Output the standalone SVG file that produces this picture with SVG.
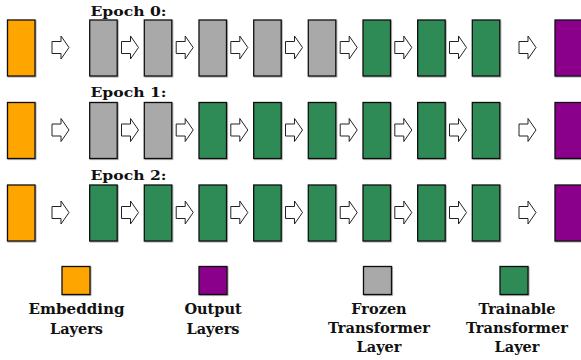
<svg xmlns="http://www.w3.org/2000/svg" xmlns:xlink="http://www.w3.org/1999/xlink" width="581" height="360" viewBox="0 0 581 360">
  <style>
    .box { stroke: #111; stroke-width: 1.3; }
    .emb { fill: #FFA500; }
    .out { fill: #8B008B; }
    .frz { fill: #A9A9A9; }
    .trn { fill: #2E8B57; }
    .arrow { fill: #fff; stroke: #222; stroke-width: 1; stroke-linejoin: miter; }
    .lbl { font-family: "DejaVu Serif", "Liberation Serif", serif; font-weight: bold; fill: #111; }
    .epoch { font-size: 13px; }
    .leg { font-size: 14.5px; text-anchor: middle; }
  </style>
  <defs>
    <filter id="shadow" x="-20%" y="-20%" width="140%" height="140%">
      <feDropShadow dx="0.8" dy="0.8" stdDeviation="0.6" flood-color="#000" flood-opacity="0.35"/>
    </filter>
    <!-- block arrow, local origin at left end of shaft, centred vertically -->
    <path id="blk" class="arrow" d="M0,-6 H9 V-11.5 L17,0 L9,11.5 V6 H0 Z"/>
  </defs>

  <!-- Epoch labels -->
  <g id="labels">
    <text class="lbl epoch" x="90.5" y="15.5" textLength="76" lengthAdjust="spacingAndGlyphs">Epoch 0:</text>
    <text class="lbl epoch" x="90.5" y="97" textLength="76" lengthAdjust="spacingAndGlyphs">Epoch 1:</text>
    <text class="lbl epoch" x="90.5" y="179.5" textLength="76" lengthAdjust="spacingAndGlyphs">Epoch 2:</text>
  </g>

  <!-- Epoch 0 row -->
  <g id="row0" filter="url(#shadow)">
    <rect id="r0-emb" class="box emb" x="7.5" y="20" width="27.5" height="56"/>
    <rect id="r0-l1" class="box frz" x="89.7" y="20" width="27.5" height="56"/>
    <rect id="r0-l2" class="box frz" x="144.3" y="20" width="27.5" height="56"/>
    <rect id="r0-l3" class="box frz" x="199" y="20" width="27.5" height="56"/>
    <rect id="r0-l4" class="box frz" x="253.7" y="20" width="27.5" height="56"/>
    <rect id="r0-l5" class="box frz" x="308.3" y="20" width="27.5" height="56"/>
    <rect id="r0-l6" class="box trn" x="363" y="20" width="27.5" height="56"/>
    <rect id="r0-l7" class="box trn" x="417.7" y="20" width="27.5" height="56"/>
    <rect id="r0-l8" class="box trn" x="472.3" y="20" width="27.5" height="56"/>
    <rect id="r0-out" class="box out" x="555" y="20" width="27.5" height="56"/>
  </g>

  <!-- Epoch 1 row -->
  <g id="row1" filter="url(#shadow)">
    <rect id="r1-emb" class="box emb" x="7.5" y="102.5" width="27.5" height="56"/>
    <rect id="r1-l1" class="box frz" x="89.7" y="102.5" width="27.5" height="56"/>
    <rect id="r1-l2" class="box frz" x="144.3" y="102.5" width="27.5" height="56"/>
    <rect id="r1-l3" class="box trn" x="199" y="102.5" width="27.5" height="56"/>
    <rect id="r1-l4" class="box trn" x="253.7" y="102.5" width="27.5" height="56"/>
    <rect id="r1-l5" class="box trn" x="308.3" y="102.5" width="27.5" height="56"/>
    <rect id="r1-l6" class="box trn" x="363" y="102.5" width="27.5" height="56"/>
    <rect id="r1-l7" class="box trn" x="417.7" y="102.5" width="27.5" height="56"/>
    <rect id="r1-l8" class="box trn" x="472.3" y="102.5" width="27.5" height="56"/>
    <rect id="r1-out" class="box out" x="555" y="102.5" width="27.5" height="56"/>
  </g>

  <!-- Epoch 2 row -->
  <g id="row2" filter="url(#shadow)">
    <rect id="r2-emb" class="box emb" x="7.5" y="185" width="27.5" height="56"/>
    <rect id="r2-l1" class="box trn" x="89.7" y="185" width="27.5" height="56"/>
    <rect id="r2-l2" class="box trn" x="144.3" y="185" width="27.5" height="56"/>
    <rect id="r2-l3" class="box trn" x="199" y="185" width="27.5" height="56"/>
    <rect id="r2-l4" class="box trn" x="253.7" y="185" width="27.5" height="56"/>
    <rect id="r2-l5" class="box trn" x="308.3" y="185" width="27.5" height="56"/>
    <rect id="r2-l6" class="box trn" x="363" y="185" width="27.5" height="56"/>
    <rect id="r2-l7" class="box trn" x="417.7" y="185" width="27.5" height="56"/>
    <rect id="r2-l8" class="box trn" x="472.3" y="185" width="27.5" height="56"/>
    <rect id="r2-out" class="box out" x="555" y="185" width="27.5" height="56"/>
  </g>

  <!-- Connectors: block arrows between consecutive layers -->
  <g id="connectors">
    <g transform="translate(0,47.5)">
      <use xlink:href="#blk" x="52" y="0"/>
      <use xlink:href="#blk" x="121.5" y="0"/>
      <use xlink:href="#blk" x="176.2" y="0"/>
      <use xlink:href="#blk" x="230.8" y="0"/>
      <use xlink:href="#blk" x="285.5" y="0"/>
      <use xlink:href="#blk" x="340.2" y="0"/>
      <use xlink:href="#blk" x="394.8" y="0"/>
      <use xlink:href="#blk" x="449.5" y="0"/>
      <use xlink:href="#blk" x="519" y="0"/>
    </g>
    <g transform="translate(0,130)">
      <use xlink:href="#blk" x="52" y="0"/>
      <use xlink:href="#blk" x="121.5" y="0"/>
      <use xlink:href="#blk" x="176.2" y="0"/>
      <use xlink:href="#blk" x="230.8" y="0"/>
      <use xlink:href="#blk" x="285.5" y="0"/>
      <use xlink:href="#blk" x="340.2" y="0"/>
      <use xlink:href="#blk" x="394.8" y="0"/>
      <use xlink:href="#blk" x="449.5" y="0"/>
      <use xlink:href="#blk" x="519" y="0"/>
    </g>
    <g transform="translate(0,212.5)">
      <use xlink:href="#blk" x="52" y="0"/>
      <use xlink:href="#blk" x="121.5" y="0"/>
      <use xlink:href="#blk" x="176.2" y="0"/>
      <use xlink:href="#blk" x="230.8" y="0"/>
      <use xlink:href="#blk" x="285.5" y="0"/>
      <use xlink:href="#blk" x="340.2" y="0"/>
      <use xlink:href="#blk" x="394.8" y="0"/>
      <use xlink:href="#blk" x="449.5" y="0"/>
      <use xlink:href="#blk" x="519" y="0"/>
    </g>
  </g>

  <!-- Legend -->
  <g id="legend-embedding">
    <rect class="box emb" x="62" y="266.5" width="28" height="28" filter="url(#shadow)"/>
    <text class="lbl leg" x="76.5" y="314" textLength="96" lengthAdjust="spacingAndGlyphs">Embedding</text>
    <text class="lbl leg" x="76.5" y="333.5">Layers</text>
  </g>
  <g id="legend-output">
    <rect class="box out" x="199" y="266.5" width="28" height="28" filter="url(#shadow)"/>
    <text class="lbl leg" x="213" y="314">Output</text>
    <text class="lbl leg" x="213" y="333.5">Layers</text>
  </g>
  <g id="legend-frozen">
    <rect class="box frz" x="363.5" y="266.5" width="28" height="28" filter="url(#shadow)"/>
    <text class="lbl leg" x="379" y="313.5">Frozen</text>
    <text class="lbl leg" x="379" y="333" textLength="102" lengthAdjust="spacingAndGlyphs">Transformer</text>
    <text class="lbl leg" x="379" y="352">Layer</text>
  </g>
  <g id="legend-trainable">
    <rect class="box trn" x="500" y="266.5" width="28" height="28" filter="url(#shadow)"/>
    <text class="lbl leg" x="517" y="313.5">Trainable</text>
    <text class="lbl leg" x="517" y="333" textLength="102" lengthAdjust="spacingAndGlyphs">Transformer</text>
    <text class="lbl leg" x="517" y="352">Layer</text>
  </g>
</svg>
